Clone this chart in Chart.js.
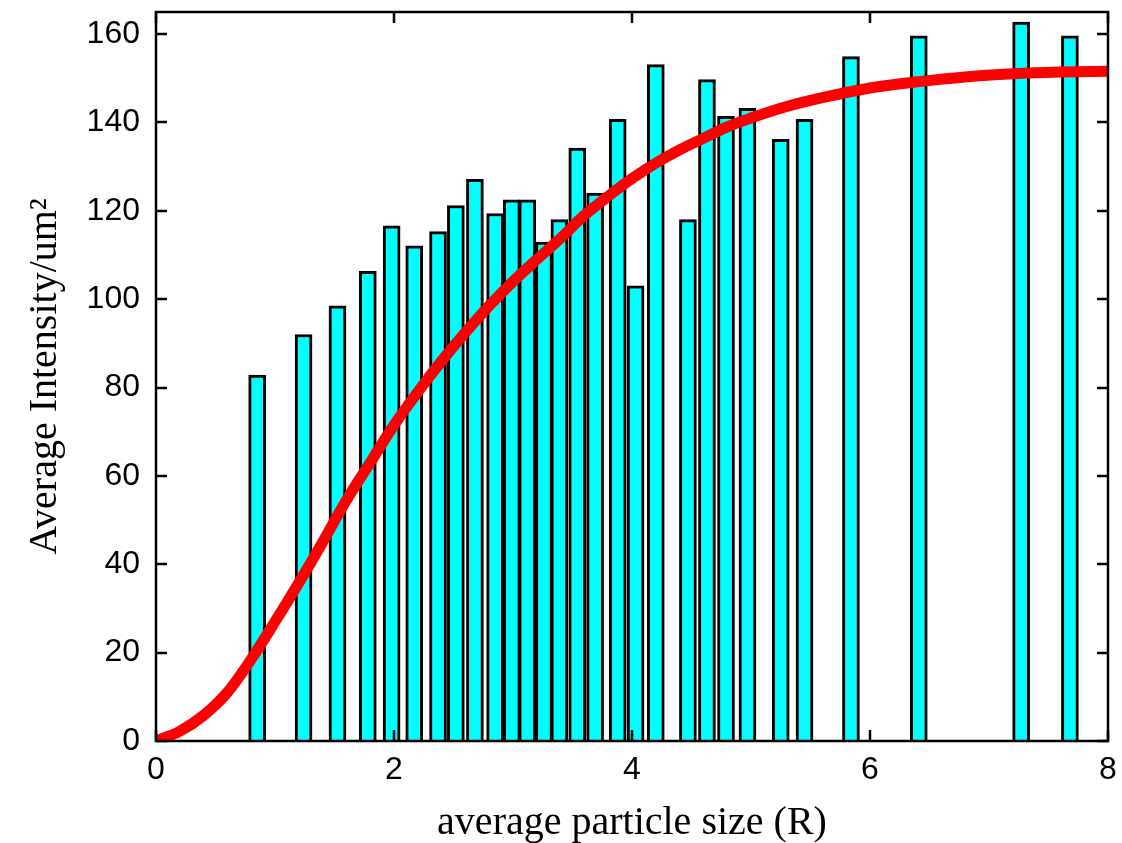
<!DOCTYPE html>
<html>
<head>
<meta charset="utf-8">
<script src="https://cdn.jsdelivr.net/npm/chart.js@4.4.1/dist/chart.umd.min.js"></script>
<style>
  html, body { margin: 0; padding: 0; background: #ffffff; }
  #wrap { width: 1122px; height: 843px; }
</style>
</head>
<body>
<div id="wrap"><canvas id="c" width="1122" height="843"></canvas></div>
<script>
// Bar data: average particle size (R) and average intensity
const barX = [0.85, 1.24, 1.525, 1.78, 1.98, 2.17, 2.37, 2.52, 2.68, 2.85, 2.99, 3.12, 3.26, 3.39, 3.54, 3.69, 3.88, 4.03, 4.20, 4.47, 4.63, 4.79, 4.97, 5.25, 5.45, 5.84, 6.41, 7.27, 7.68];
const barY = [82.8, 92.0, 98.5, 106.3, 116.6, 112.1, 115.3, 121.2, 127.1, 119.4, 122.5, 122.5, 112.9, 118.0, 134.2, 124.0, 140.7, 103.0, 153.1, 118.0, 149.7, 141.4, 143.2, 136.2, 140.7, 154.9, 159.6, 162.7, 159.6];

// Fitted curve
const curveX = [0, 0.2, 0.4, 0.6, 0.8, 1.0, 1.2, 1.4, 1.6, 1.8, 2.0, 2.2, 2.4, 2.6, 2.8, 3.0, 3.2, 3.4, 3.6, 3.8, 4.0, 4.2, 4.4, 4.6, 4.8, 5.0, 5.3, 5.6, 6.0, 6.4, 6.8, 7.2, 7.6, 8.0];
const curveY = [0, 2.2, 5.8, 11, 18.5, 27, 35.8, 45, 54.5, 63, 71.5, 79, 86, 92.5, 98.5, 104, 109, 113.8, 119, 123.3, 127.3, 130.8, 133.8, 136.4, 139, 141, 143.6, 145.6, 147.8, 149.2, 150.3, 151, 151.4, 151.6];

// Tick labels
const xTicks = [0, 2, 4, 6, 8];
const yTicks = [0, 20, 40, 60, 80, 100, 120, 140, 160];

const xTitle = 'average particle size (R)';
const yTitle = 'Average Intensity/um\u00B2';

const framePlugin = {
  id: 'frame',
  afterDatasetsDraw(chart) {
    const { ctx, chartArea: a, scales: { x, y } } = chart;
    ctx.save();
    ctx.strokeStyle = '#000000';
    ctx.lineWidth = 2.5;
    ctx.strokeRect(a.left, a.top, a.right - a.left, a.bottom - a.top);
    const L = 11;
    ctx.beginPath();
    xTicks.forEach(v => {
      const px = Math.round(x.getPixelForValue(v));
      ctx.moveTo(px, a.bottom); ctx.lineTo(px, a.bottom - L);
      ctx.moveTo(px, a.top); ctx.lineTo(px, a.top + L);
    });
    yTicks.forEach(v => {
      const py = Math.round(y.getPixelForValue(v));
      ctx.moveTo(a.left, py); ctx.lineTo(a.left + L, py);
      ctx.moveTo(a.right, py); ctx.lineTo(a.right - L, py);
    });
    ctx.stroke();
    ctx.restore();
  }
};

new Chart(document.getElementById('c'), {
  data: {
    datasets: [
      {
        type: 'line',
        data: curveX.map((v, i) => ({ x: v, y: curveY[i] })),
        borderColor: '#ff0000',
        borderWidth: 11,
        pointRadius: 0,
        cubicInterpolationMode: 'monotone',
        fill: false,
        order: 0
      },
      {
        type: 'bar',
        data: barX.map((v, i) => ({ x: v, y: barY[i] })),
        backgroundColor: '#00ffff',
        borderColor: '#000000',
        borderWidth: 3,
        barThickness: 17,
        order: 1
      }
    ]
  },
  options: {
    responsive: false,
    animation: false,
    devicePixelRatio: 1,
    layout: { padding: { top: 12, right: 14, left: 0, bottom: 0 } },
    plugins: { legend: { display: false }, tooltip: { enabled: false } },
    scales: {
      x: {
        type: 'linear',
        min: 0, max: 8,
        offset: false,
        grid: { display: false, drawTicks: false },
        border: { display: false },
        afterBuildTicks: s => { s.ticks = xTicks.map(v => ({ value: v })); },
        afterFit: s => { s.height = 102; s.paddingLeft = 0; s.paddingRight = 0; },
        ticks: {
          padding: 10,
          color: '#000000',
          font: { family: 'Liberation Sans', size: 32 },
          maxRotation: 0
        },
        title: {
          display: true,
          text: xTitle,
          color: '#000000',
          font: { family: 'Liberation Serif', size: 40, lineHeight: 1.0 },
          padding: { top: 0, bottom: 0 }
        }
      },
      y: {
        type: 'linear',
        min: 0, max: 165,
        grid: { display: false, drawTicks: false },
        border: { display: false },
        afterBuildTicks: s => { s.ticks = yTicks.map(v => ({ value: v })); },
        afterFit: s => { s.width = 156; s.paddingTop = 0; s.paddingBottom = 0; },
        ticks: {
          padding: 16,
          color: '#000000',
          font: { family: 'Liberation Sans', size: 32 }
        },
        title: {
          display: true,
          text: yTitle,
          color: '#000000',
          font: { family: 'Liberation Serif', size: 40, lineHeight: 1.0 },
          padding: { top: 25, bottom: 0 }
        }
      }
    }
  },
  plugins: [framePlugin]
});
</script>
</body>
</html>
